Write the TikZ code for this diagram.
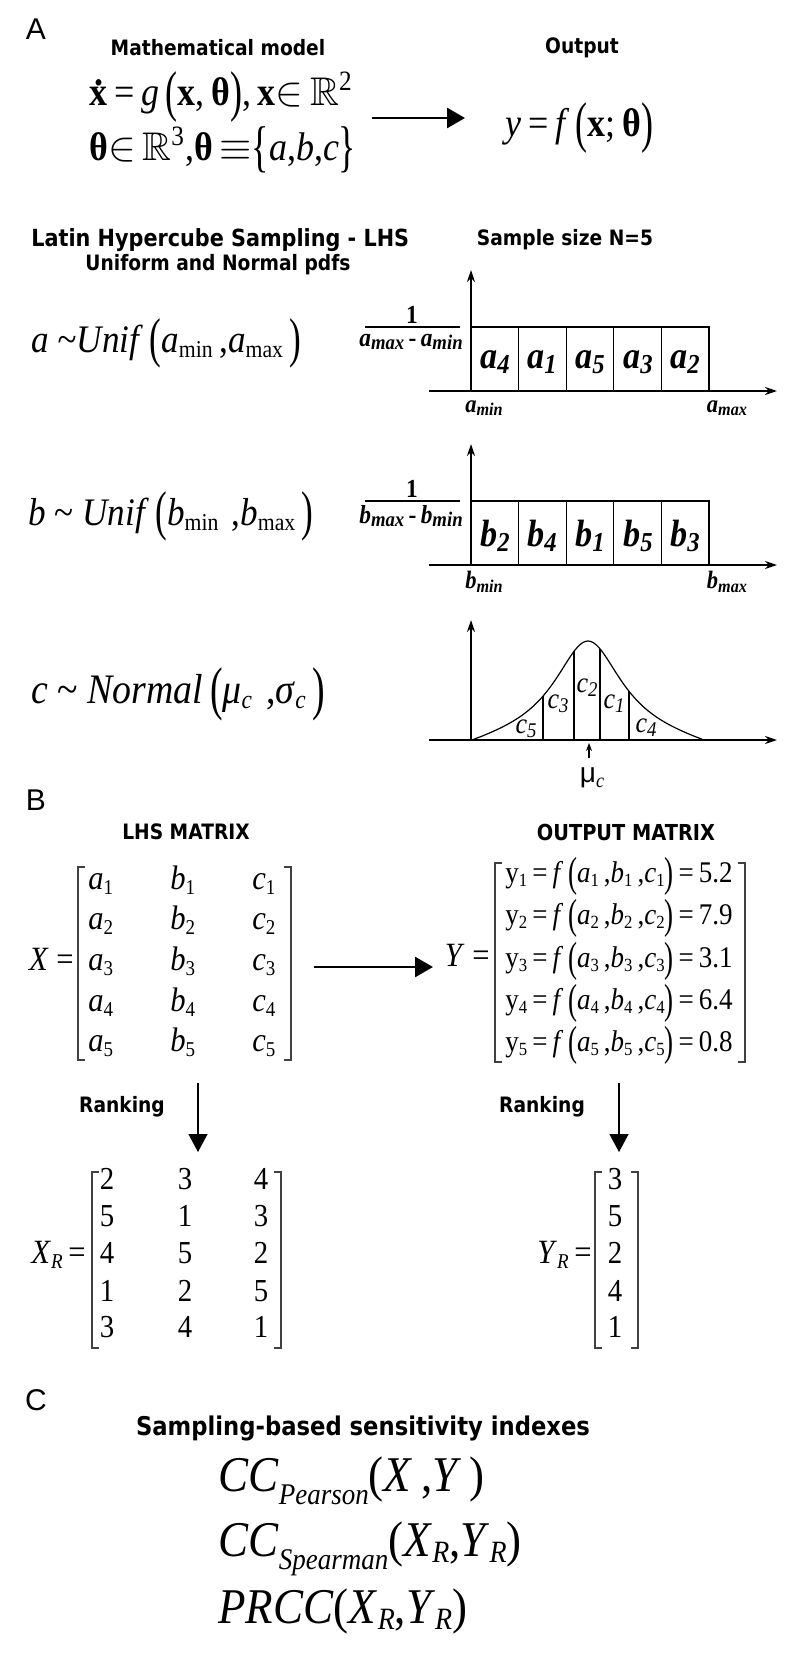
\documentclass[tikz,border=0pt]{standalone}
\usepackage{fontspec}
\usepackage{amssymb}
\usetikzlibrary{arrows.meta}
\setmainfont{Liberation Serif}
\newfontfamily\hdfont[FakeStretch=0.88]{DejaVu Sans}
\newfontfamily\pnfont{Liberation Sans}
\newfontfamily\fmfont[FakeStretch=0.9]{Liberation Serif}
\newcommand\lo[1]{\raisebox{-0.3ex}{\scalebox{0.62}{#1}}}
\newcommand\blo[1]{\raisebox{-0.3ex}{\scalebox{0.72}{#1}}}
\newcommand\flo[1]{\raisebox{-0.3ex}{\scalebox{0.8}{#1}}}
\newcommand\BP[1]{\raisebox{-0.12em}{\scalebox{1}[1.4]{#1}}}
\newcommand\dotx{\leavevmode\rlap{\hbox to 0.5em{\hss\raisebox{0.5em}{\textbf{.}}\hss}}\textbf{x}}
\newcommand\bi[1]{\textbf{\textit{#1}}}
\begin{document}
\begin{tikzpicture}[x=0.5pt,y=-0.5pt,
  panel/.style={font=\pnfont\fontsize{15}{16}\selectfont, inner sep=0},
  hd/.style={font=\hdfont\bfseries\fontsize{10.6}{12}\selectfont, inner sep=0},
  hdl/.style={font=\hdfont\bfseries\fontsize{11.8}{13}\selectfont, inner sep=0},
  eqA/.style={font=\fmfont\fontsize{20}{22}\selectfont, inner sep=0},
  dist/.style={font=\fmfont\fontsize{19.5}{21}\selectfont, inner sep=0},
  boxlbl/.style={font=\fmfont\fontsize{19}{20}\selectfont, inner sep=0},
  axlbl/.style={font=\fmfont\fontsize{12.5}{13}\selectfont, inner sep=0},
  frac/.style={font=\fmfont\fontsize{13}{14}\selectfont, inner sep=0},
  clbl/.style={font=\fmfont\fontsize{14.5}{15}\selectfont, inner sep=0},
  mx/.style={font=\fmfont\fontsize{17}{18}\selectfont, inner sep=0},
  ym/.style={font=\fmfont\fontsize{15}{16}\selectfont, inner sep=0},
  rk/.style={font=\fmfont\fontsize{16}{17}\selectfont, inner sep=0},
  cc/.style={font=\fmfont\fontsize{25}{27}\selectfont, inner sep=0},
  bigarrow/.style={line width=1.4pt, -{Triangle[length=9pt,width=10pt]}},
  downarrow/.style={line width=0.7pt, -{Triangle[length=9pt,width=9.5pt]}},
  axis/.style={line width=1pt, -{Stealth[length=6pt,width=4pt]}},
  thin/.style={line width=0.6pt},
  brk/.style={line width=0.6pt, draw=black!75}
]
\useasboundingbox (0,0) rectangle (800,1658);

% ---------------- Section A ----------------
\node[panel] (pA) at (36,29) {A};
\node[hd] (mm) at (218,48) {Mathematical model};
\node[hd] (out) at (582,48) {Output};
\node[eqA, anchor=base west] (eq1) at (89,106)
  {\dotx\,=\,\textit{g}\,\BP{(}\textbf{x},\,\textbf{θ}\BP{)},\,\textbf{x}$\in$\,$\mathbb{R}$\textsuperscript{2}};
\node[eqA, anchor=base west] (eq2) at (89,161)
  {\textbf{θ}$\in$\,$\mathbb{R}$\textsuperscript{3},\textbf{θ}\,$\equiv$\BP{\{}\textit{a},\textit{b},\textit{c}\BP{\}}};
\node[eqA, anchor=base west] (yf) at (505,137)
  {\textit{y}\,=\,\textit{f}\,\BP{(}\textbf{x};\,\textbf{θ}\BP{)}};
\coordinate (arAs) at (372,118);
\coordinate (arAe) at (465,118);
\draw[bigarrow] (arAs) -- (arAe);

\node[hdl, anchor=west] (lhs) at (31,240) {Latin Hypercube Sampling - LHS};
\node[hd] (pdfs) at (218,265) {Uniform and Normal pdfs};
\node[hd] (ss) at (565,240) {Sample size N=5};

% distributions
\node[dist, anchor=base west] (da) at (31,352)
  {\textit{a} \textit{\textasciitilde Unif}\,\BP{(}\textit{a}\lo{min}\,,\textit{a}\lo{max}\,\BP{)}};
\node[dist, anchor=base west] (db) at (28,525)
  {\textit{b} \textasciitilde\ \textit{Unif}\,\BP{(}\textit{b}\lo{min}\,\,,\textit{b}\lo{max}\,\BP{)}};
\node[dist, anchor=base west, font=\fmfont\fontsize{21}{23}\selectfont] (dc) at (31,703)
  {\textit{c} \textasciitilde\ \textit{Normal}\,\BP{(}\textit{μ}\lo{\textit{c}}\,\,,\textit{σ}\lo{\textit{c}}\,\BP{)}};

% uniform plots
\foreach \nm/\yb/\L/\la/\lb/\lc/\ld/\le in {a/391/a/4/1/5/3/2, b/565/b/2/4/1/5/3}{
  \draw[axis] (471,\yb) -- (471,\yb-121);
  \draw[axis] (429,\yb) -- (777,\yb);
  \draw[thin] (471,\yb-64) rectangle (709,\yb);
  \foreach \xx in {518.6,566.2,613.8,661.4}{\draw[thin] (\xx,\yb-64) -- (\xx,\yb);}
  \node[boxlbl] (\nm 1) at (495,\yb-29) {\bi{\L}\blo{\bi{\la}}};
  \node[boxlbl] (\nm 2) at (542,\yb-29) {\bi{\L}\blo{\bi{\lb}}};
  \node[boxlbl] (\nm 3) at (590,\yb-29) {\bi{\L}\blo{\bi{\lc}}};
  \node[boxlbl] (\nm 4) at (638,\yb-29) {\bi{\L}\blo{\bi{\ld}}};
  \node[boxlbl] (\nm 5) at (685,\yb-29) {\bi{\L}\blo{\bi{\le}}};
  \node[axlbl] (\nm min) at (484,\yb+17) {\bi{\L}\blo{\bi{min}}};
  \node[axlbl] (\nm max) at (727,\yb+17) {\bi{\L}\blo{\bi{max}}};
  \draw[thin] (365,\yb-64) -- (460,\yb-64);
  \node[frac] (\nm one) at (412,\yb-76) {\textbf{1}};
  \node[frac] (\nm den) at (411,\yb-49) {\bi{\L}\flo{\bi{max}}\,\textbf{-}\,\bi{\L}\flo{\bi{min}}};
}

% normal plot
\draw[axis] (471,740) -- (471,620);
\draw[axis] (429,740) -- (777,740);
\draw[thin] plot[domain=472:702, samples=90, smooth]
  (\x,{740-99*(1/(1+((\x-588)/41)*((\x-588)/41)))*(1-((\x-588)/116)*((\x-588)/116)*((\x-588)/116)*((\x-588)/116))});
\foreach \xx in {543,574,600,629}{
  \draw[thin] (\xx,740) -- (\xx,{740-99*(1/(1+((\xx-588)/41)*((\xx-588)/41)))*(1-((\xx-588)/116)*((\xx-588)/116)*((\xx-588)/116)*((\xx-588)/116))});
}
\node[clbl] (c5) at (526,729) {\textit{c}\blo{\textit{5}}};
\node[clbl] (c3) at (558,704) {\textit{c}\blo{\textit{3}}};
\node[clbl] (c2) at (587,688) {\textit{c}\blo{\textit{2}}};
\node[clbl] (c1) at (614,704) {\textit{c}\blo{\textit{1}}};
\node[clbl] (c4) at (646,728) {\textit{c}\blo{\textit{4}}};
\coordinate (mus) at (589,758);
\coordinate (mue) at (589,743);
\draw[line width=0.6pt, -{Stealth[length=4pt,width=3pt]}] (mus) -- (mue);
\node[font=\pnfont\fontsize{14}{15}\selectfont, inner sep=0] (mu) at (592,778) {μ\blo{\fmfont\textit{c}}};

% ---------------- Section B ----------------
\node[panel] (pB) at (36,800) {B};
\node[hd] (lhsm) at (186,832) {LHS MATRIX};
\node[hd, font=\hdfont\bfseries\fontsize{11}{12}\selectfont] (outm) at (626,832) {OUTPUT MATRIX};

\node[mx, anchor=mid east] (Xl) at (74,966) {\textit{X} =};
\draw[brk] (85,867) -- (78,867) -- (78,1060) -- (85,1060);
\draw[brk] (284,867) -- (291,867) -- (291,1060) -- (284,1060);
\foreach \r/\yy in {1/885,2/925,3/966,4/1007,5/1047}{
  \node[mx, anchor=mid west] (xa\r) at (88,\yy) {\textit{a}\lo{\r}};
  \node[mx, anchor=mid west] (xb\r) at (170,\yy) {\textit{b}\lo{\r}};
  \node[mx, anchor=mid west] (xc\r) at (252,\yy) {\textit{c}\lo{\r}};
}
\coordinate (arBs) at (314,967);
\coordinate (arBe) at (433,967);
\draw[bigarrow] (arBs) -- (arBe);

\node[mx, anchor=mid east] (Yl) at (490,962) {\textit{Y} =};
\draw[brk] (502,863) -- (495,863) -- (495,1062) -- (502,1062);
\draw[brk] (738,863) -- (745,863) -- (745,1062) -- (738,1062);
\foreach \r/\yy/\v in {1/878/5.2,2/920/7.9,3/963/3.1,4/1005/6.4,5/1047/0.8}{
  \node[ym, anchor=mid west] (yr\r) at (505,\yy)
   {y\lo{\r}\,=\,\textit{f}\,\BP{(}\textit{a}\lo{\r}\,,\textit{b}\lo{\r}\,,\textit{c}\lo{\r}\BP{)}\,=\,\v};
}

\node[hd] (rk1) at (122,1107) {Ranking};
\node[hd] (rk2) at (542,1107) {Ranking};
\coordinate (d1s) at (198,1083);
\coordinate (d1e) at (198,1152);
\coordinate (d2s) at (619,1083);
\coordinate (d2e) at (619,1152);
\draw[downarrow] (d1s) -- (d1e);
\draw[downarrow] (d2s) -- (d2e);

\node[mx, anchor=mid east] (XRl) at (86,1259) {\textit{X}\lo{\textit{R}}\,=};
\draw[brk] (99,1172) -- (92,1172) -- (92,1348) -- (99,1348);
\draw[brk] (274,1172) -- (281,1172) -- (281,1348) -- (274,1348);
\foreach \r/\yy/\p/\q/\s in {1/1185/2/3/4,2/1222/5/1/3,3/1259/4/5/2,4/1297/1/2/5,5/1333/3/4/1}{
  \node[rk, anchor=mid] (xr\r a) at (107,\yy) {\p};
  \node[rk, anchor=mid] (xr\r b) at (185,\yy) {\q};
  \node[rk, anchor=mid] (xr\r c) at (261,\yy) {\s};
}
\node[mx, anchor=mid east] (YRl) at (592,1259) {\textit{Y}\lo{\textit{R}}\,=};
\draw[brk] (602,1172) -- (595,1172) -- (595,1348) -- (602,1348);
\draw[brk] (631,1172) -- (638,1172) -- (638,1348) -- (631,1348);
\foreach \r/\yy/\p in {1/1185/3,2/1222/5,3/1259/2,4/1297/4,5/1333/1}{
  \node[rk, anchor=mid] (yrk\r) at (615,\yy) {\p};
}

% ---------------- Section C ----------------
\node[panel] (pC) at (36,1400) {C};
\node[hd, font=\hdfont\bfseries\fontsize{12.9}{14}\selectfont] (sbs) at (363,1428) {Sampling-based sensitivity indexes};
\node[cc, anchor=base west] (cc1) at (218,1491)
  {\textit{CC}\raisebox{-0.6ex}{\scalebox{0.6}{\textit{Pearson}}}(\textit{X}\,,\textit{Y}\,)};
\node[cc, anchor=base west] (cc2) at (218,1556)
  {\textit{CC}\raisebox{-0.6ex}{\scalebox{0.6}{\textit{Spearman}}}(\textit{X}\lo{\textit{R}},\textit{Y}\lo{\textit{R}})};
\node[cc, anchor=base west] (cc3) at (218,1623)
  {\textit{PRCC}(\textit{X}\lo{\textit{R}},\textit{Y}\lo{\textit{R}})};
\end{tikzpicture}
\end{document}
